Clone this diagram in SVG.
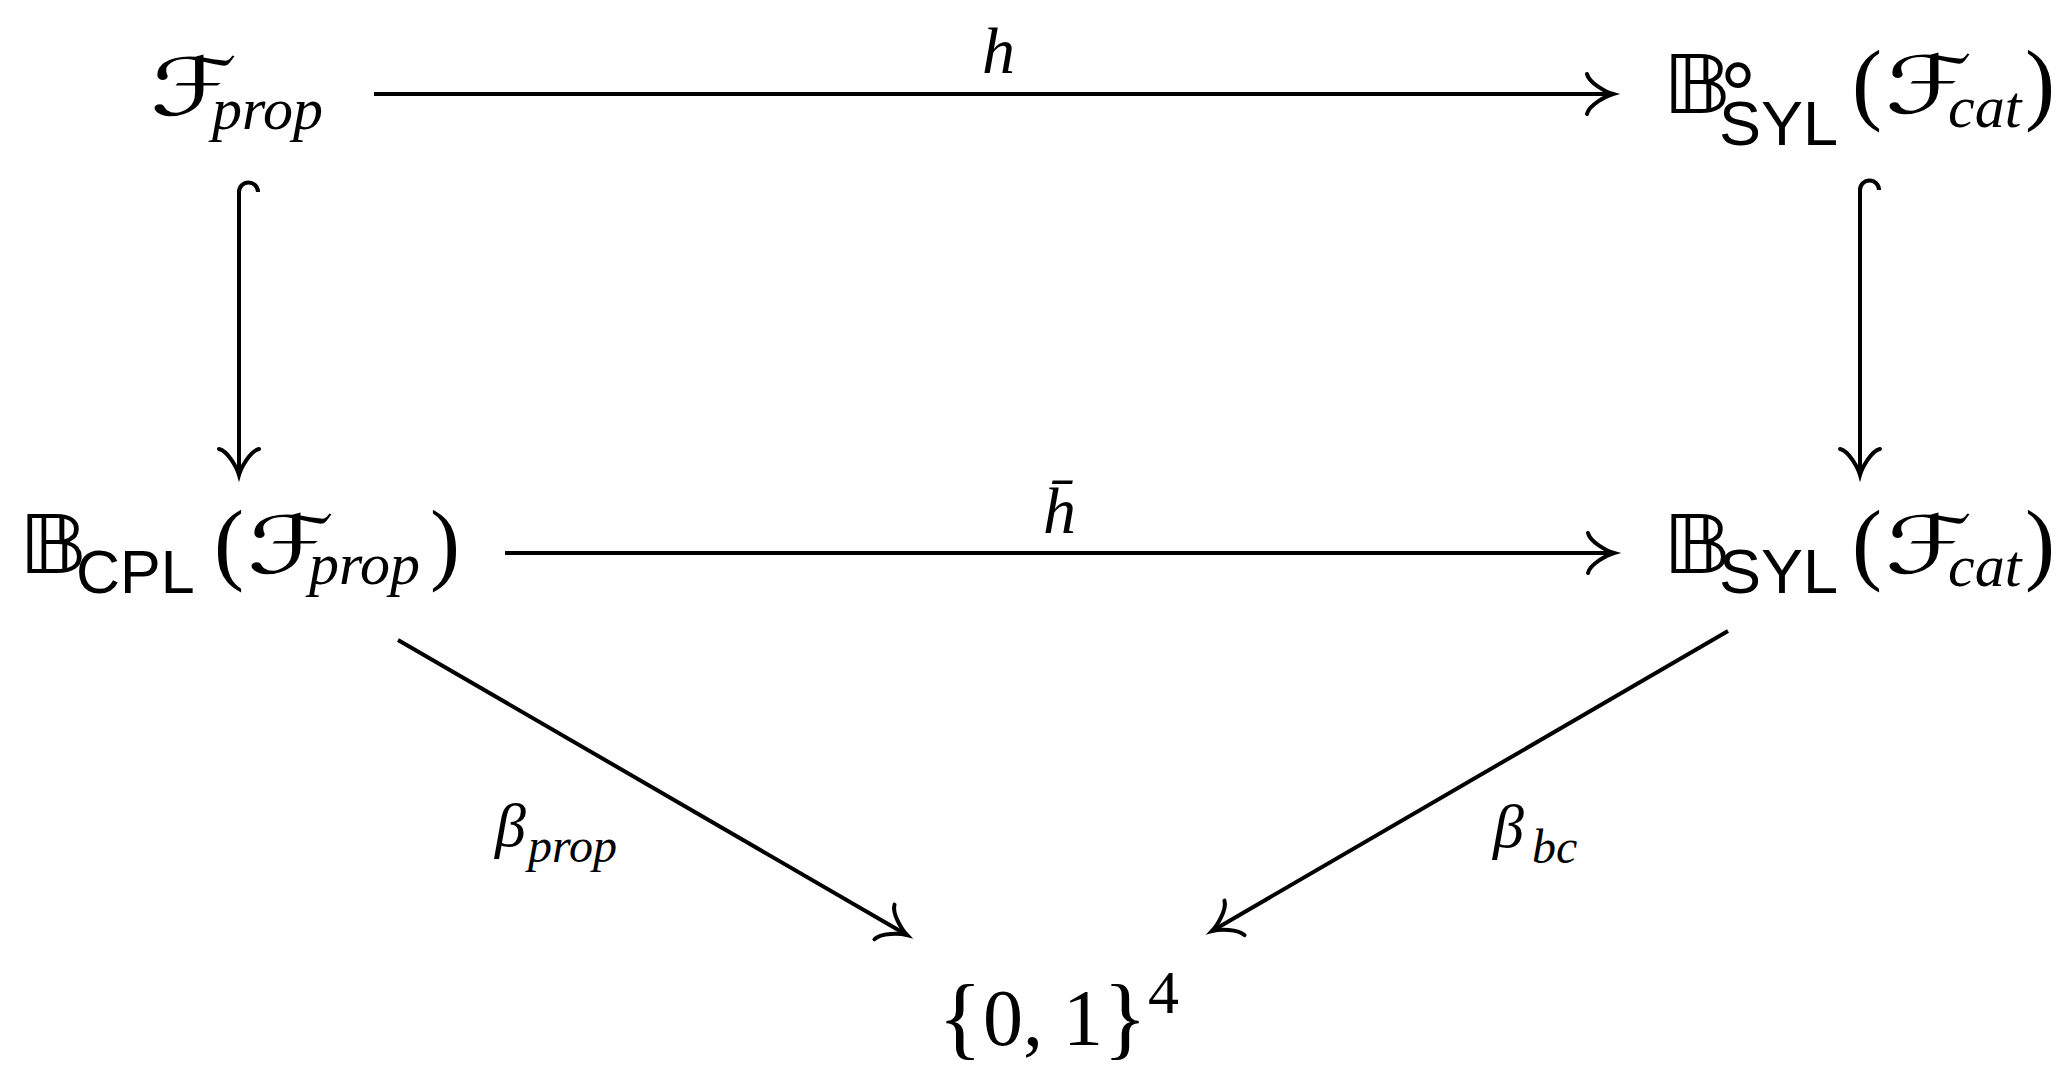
<svg xmlns="http://www.w3.org/2000/svg" width="2071" height="1091" viewBox="0 0 2071 1091">
<style>
.it{font-family:"Liberation Serif",serif;font-style:italic}
.rm{font-family:"Liberation Serif",serif}
.sf{font-family:"Liberation Sans",sans-serif}
.bb{font-family:"DejaVu Sans",sans-serif;font-size:80px}
.cal{font-family:"DejaVu Sans",sans-serif;font-size:80px}
.par{font-family:"Liberation Serif",serif;font-size:90px}
.sub{font-family:"Liberation Serif",serif;font-style:italic;font-size:60px}
.c{fill:none;stroke:#000;stroke-width:4}
text{fill:#000}
</style>
<defs>
<marker id="ah" markerUnits="userSpaceOnUse" viewBox="-30 -25 35 50" refX="0" refY="0" markerWidth="35" markerHeight="50" orient="auto" overflow="visible">
<path d="M-26,-20 C-24,-11 -7,-2 0,0 C-7,2 -24,11 -26,20" fill="none" stroke="#000" stroke-width="4" stroke-linecap="round"/>
</marker>
</defs>
<rect width="2071" height="1091" fill="#fff"/>
<g id="n1">
<text class="cal" transform="translate(150,115) scale(1.4,1)">ℱ</text>
<text class="sub" x="212" y="129">prop</text>
</g>
<g id="n2">
<text class="bb" transform="translate(1662,113) scale(1.2,1)">𝔹</text>
<text class="sf" x="1720" y="126" font-size="90">°</text>
<text class="sf" x="1719" y="145" font-size="63">SYL</text>
<text class="par" x="1852" y="113">(</text>
<text class="cal" transform="translate(1885,113) scale(1.4,1)">ℱ</text>
<text class="sub" x="1948" y="127">cat</text>
<text class="par" x="2025" y="113">)</text>
</g>
<g id="n3">
<text class="bb" transform="translate(18,573) scale(1.2,1)">𝔹</text>
<text class="sf" x="76" y="593" font-size="61">CPL</text>
<text class="par" x="214" y="573">(</text>
<text class="cal" transform="translate(247,573) scale(1.4,1)">ℱ</text>
<text class="sub" x="309" y="584" font-size="58">prop</text>
<text class="par" x="430" y="573">)</text>
</g>
<g id="n4">
<text class="bb" transform="translate(1662,573) scale(1.2,1)">𝔹</text>
<text class="sf" x="1719" y="593" font-size="63">SYL</text>
<text class="par" x="1852" y="573">(</text>
<text class="cal" transform="translate(1885,573) scale(1.4,1)">ℱ</text>
<text class="sub" x="1948" y="586">cat</text>
<text class="par" x="2025" y="573">)</text>
</g>
<g id="n5">
<text class="rm" x="938" y="1048" font-size="92">{</text>
<text class="rm" x="983" y="1045" font-size="80">0</text>
<text class="rm" x="1023" y="1045" font-size="80">,</text>
<text class="rm" x="1063" y="1045" font-size="80">1</text>
<text class="rm" x="1103" y="1048" font-size="92">}</text>
<text class="rm" x="1148" y="1013" font-size="62">4</text>
</g>
<g id="connectors">
<line class="c" x1="374" y1="94" x2="1613" y2="94" marker-end="url(#ah)"/>
<line class="c" x1="505" y1="553" x2="1614" y2="553" marker-end="url(#ah)"/>
<path class="c" d="M239,475 V192 A9.5,9.5 0 0 1 258,192"/>
<line class="c" x1="239" y1="300" x2="239" y2="475" marker-end="url(#ah)"/>
<path class="c" d="M1860,475 V190 A9.5,9.5 0 0 1 1879,190"/>
<line class="c" x1="1860" y1="300" x2="1860" y2="475" marker-end="url(#ah)"/>
<line class="c" x1="398" y1="640" x2="907" y2="935" marker-end="url(#ah)"/>
<line class="c" x1="1728" y1="631" x2="1212" y2="931" marker-end="url(#ah)"/>
</g>
<g id="labels">
<text class="it" x="982" y="73" font-size="66">h</text>
<text class="it" x="1043" y="533" font-size="66">h̄</text>
<text class="it" x="495" y="846" font-size="62">β<tspan x="528" y="862" font-size="48">prop</tspan></text>
<text class="it" x="1493" y="847" font-size="62">β<tspan x="1532" y="863" font-size="48">bc</tspan></text>
</g>
</svg>
